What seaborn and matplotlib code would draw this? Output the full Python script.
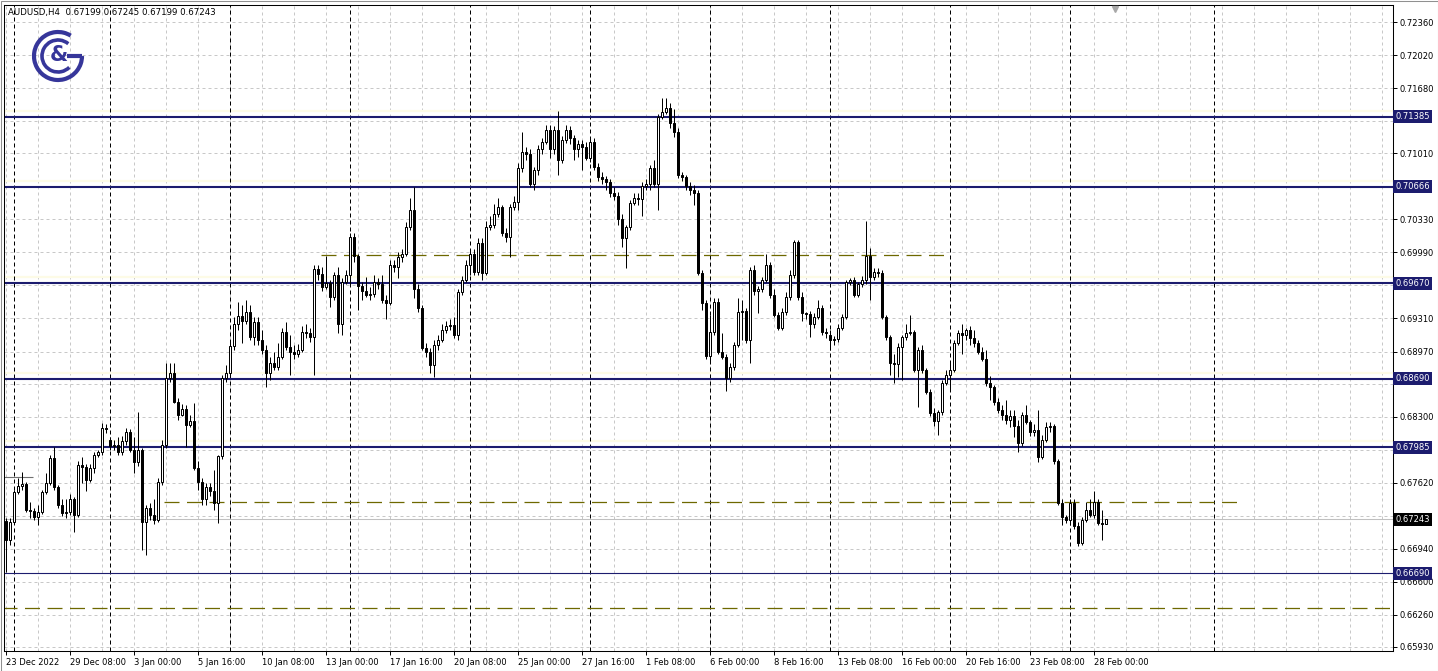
import numpy as np
import matplotlib
matplotlib.use('Agg')
import matplotlib.pyplot as plt
import matplotlib.transforms as mtransforms
from matplotlib.patches import Arc, Rectangle
import seaborn as sns

# AUDUSD H4 bars (oldest first)
opens = [
    0.6723, 0.6703, 0.6722, 0.6752, 0.6759, 0.6761, 0.6734, 0.6733, 0.6727, 0.6732,
    0.6752, 0.6762, 0.6787, 0.6758, 0.6739, 0.6731, 0.6732, 0.6745, 0.6729, 0.6780,
    0.6778, 0.6765, 0.6777, 0.6791, 0.6794, 0.6818, 0.6806, 0.6800, 0.6801, 0.6794,
    0.6805, 0.6814, 0.6796, 0.6783, 0.6796, 0.6722, 0.6736, 0.6729, 0.6724, 0.6763,
    0.6801, 0.6870, 0.6875, 0.6845, 0.6832, 0.6838, 0.6821, 0.6825, 0.6777, 0.6763,
    0.6745, 0.6758, 0.6753, 0.6741, 0.6789, 0.6870, 0.6875, 0.6903, 0.6925, 0.6934,
    0.6928, 0.6938, 0.6912, 0.6927, 0.6909, 0.6899, 0.6875, 0.6885, 0.6881, 0.6891,
    0.6917, 0.6902, 0.6897, 0.6894, 0.6899, 0.6917, 0.6916, 0.6912, 0.6982, 0.6977,
    0.6963, 0.6967, 0.6953, 0.6976, 0.6925, 0.6969, 0.6976, 0.7015, 0.6995, 0.6964,
    0.6959, 0.6955, 0.6956, 0.6968, 0.6966, 0.6950, 0.6947, 0.6986, 0.6984, 0.6994,
    0.6997, 0.7025, 0.7043, 0.6961, 0.6942, 0.6901, 0.6897, 0.6883, 0.6904, 0.6909,
    0.6919, 0.6923, 0.6924, 0.6914, 0.6958, 0.6971, 0.6986, 0.6997, 0.6979, 0.7009,
    0.6978, 0.7025, 0.7027, 0.7038, 0.7046, 0.7019, 0.7015, 0.7046, 0.7051, 0.7086,
    0.7102, 0.7100, 0.7069, 0.7084, 0.7105, 0.7113, 0.7125, 0.7105, 0.7125, 0.7094,
    0.7115, 0.7125, 0.7117, 0.7105, 0.7110, 0.7107, 0.7096, 0.7113, 0.7087, 0.7077,
    0.7074, 0.7071, 0.7060, 0.7057, 0.7033, 0.7014, 0.7025, 0.7050, 0.7055, 0.7054,
    0.7067, 0.7069, 0.7086, 0.7069, 0.7138, 0.7143, 0.7148, 0.7132, 0.7123, 0.7079,
    0.7077, 0.7067, 0.7063, 0.7060, 0.6978, 0.6947, 0.6892, 0.6917, 0.6948, 0.6896,
    0.6891, 0.6870, 0.6881, 0.6904, 0.6938, 0.6939, 0.6909, 0.6981, 0.6959, 0.6961,
    0.6971, 0.6986, 0.6955, 0.6935, 0.6921, 0.6938, 0.6953, 0.6976, 0.7010, 0.6953,
    0.6937, 0.6936, 0.6925, 0.6933, 0.6942, 0.6917, 0.6914, 0.6909, 0.6910, 0.6921,
    0.6933, 0.6968, 0.6971, 0.6955, 0.6966, 0.6971, 0.6995, 0.6974, 0.6979, 0.6978,
    0.6933, 0.6912, 0.6885, 0.6884, 0.6902, 0.6912, 0.6916, 0.6917, 0.6878, 0.6899,
    0.6878, 0.6855, 0.6834, 0.6825, 0.6835, 0.6865, 0.6873, 0.6878, 0.6906, 0.6916,
    0.6914, 0.6919, 0.6911, 0.6906, 0.6897, 0.6889, 0.6865, 0.6860, 0.6845, 0.6837,
    0.6832, 0.6827, 0.6831, 0.6820, 0.6803, 0.6832, 0.6824, 0.6814, 0.6816, 0.6788,
    0.6806, 0.6819, 0.6820, 0.6784, 0.6741, 0.6727, 0.6724, 0.6741, 0.6717, 0.6700,
    0.6724, 0.6734, 0.6729, 0.6742, 0.6721, 0.67199,
]
highs = [
    0.6726, 0.6726, 0.6755, 0.6767, 0.6773, 0.6763, 0.6742, 0.6736, 0.6739, 0.6755,
    0.6772, 0.6791, 0.6799, 0.6760, 0.6745, 0.6745, 0.6750, 0.6747, 0.6784, 0.6788,
    0.6781, 0.6781, 0.6794, 0.6796, 0.6823, 0.6822, 0.6809, 0.6806, 0.6809, 0.6810,
    0.6818, 0.6817, 0.6809, 0.6835, 0.6798, 0.6739, 0.6741, 0.6745, 0.6767, 0.6806,
    0.6885, 0.6885, 0.6885, 0.6849, 0.6843, 0.6842, 0.6832, 0.6844, 0.6784, 0.6767,
    0.6762, 0.6762, 0.6775, 0.6791, 0.6873, 0.6883, 0.6909, 0.6932, 0.6948, 0.6945,
    0.6950, 0.6945, 0.6932, 0.6932, 0.6919, 0.6904, 0.6891, 0.6897, 0.6906, 0.6921,
    0.6927, 0.6914, 0.6904, 0.6905, 0.6923, 0.6925, 0.6921, 0.6986, 0.6986, 0.6984,
    0.6995, 0.6971, 0.6979, 0.6984, 0.6973, 0.6981, 0.7019, 0.7019, 0.6997, 0.6968,
    0.6974, 0.6963, 0.6976, 0.6973, 0.6976, 0.6955, 0.6991, 0.6991, 0.6999, 0.7002,
    0.7030, 0.7055, 0.7066, 0.6966, 0.6945, 0.6906, 0.6901, 0.6909, 0.6914, 0.6925,
    0.6928, 0.6930, 0.6933, 0.6961, 0.6975, 0.6991, 0.7002, 0.7002, 0.7014, 0.7014,
    0.7031, 0.7036, 0.7049, 0.7055, 0.7048, 0.7024, 0.7049, 0.7057, 0.7091, 0.7123,
    0.7107, 0.7105, 0.7087, 0.7109, 0.7117, 0.7130, 0.7130, 0.7129, 0.7144, 0.7119,
    0.7130, 0.7129, 0.7120, 0.7115, 0.7115, 0.7113, 0.7117, 0.7117, 0.7091, 0.7082,
    0.7078, 0.7074, 0.7066, 0.7061, 0.7038, 0.7027, 0.7053, 0.7060, 0.7060, 0.7071,
    0.7074, 0.7089, 0.7094, 0.7141, 0.7158, 0.7158, 0.7153, 0.7146, 0.7127, 0.7082,
    0.7079, 0.7071, 0.7068, 0.7063, 0.6981, 0.6950, 0.6935, 0.6952, 0.6952, 0.6916,
    0.6894, 0.6885, 0.6907, 0.6952, 0.6950, 0.6942, 0.6984, 0.6986, 0.6964, 0.6974,
    0.6997, 0.6989, 0.6961, 0.6938, 0.6942, 0.6958, 0.6981, 0.7012, 0.7012, 0.6958,
    0.6938, 0.6939, 0.6937, 0.6950, 0.6945, 0.6921, 0.6919, 0.6913, 0.6925, 0.6936,
    0.6971, 0.6973, 0.6974, 0.6969, 0.6975, 0.7031, 0.7004, 0.6983, 0.6983, 0.6981,
    0.6935, 0.6914, 0.6894, 0.6906, 0.6914, 0.6925, 0.6935, 0.6919, 0.6902, 0.6904,
    0.6880, 0.6858, 0.6839, 0.6837, 0.6868, 0.6878, 0.6885, 0.6909, 0.6919, 0.6925,
    0.6921, 0.6923, 0.6919, 0.6909, 0.6902, 0.6899, 0.6872, 0.6863, 0.6849, 0.6842,
    0.6847, 0.6837, 0.6837, 0.6827, 0.6835, 0.6842, 0.6827, 0.6822, 0.6837, 0.6811,
    0.6824, 0.6824, 0.6822, 0.6786, 0.6745, 0.6729, 0.6745, 0.6745, 0.6722, 0.6727,
    0.6742, 0.6745, 0.6753, 0.6745, 0.6734, 0.67245,
]
lows = [
    0.6670, 0.6698, 0.6720, 0.6750, 0.6755, 0.6732, 0.6726, 0.6724, 0.6719, 0.6730,
    0.6750, 0.6760, 0.6755, 0.6736, 0.6728, 0.6726, 0.6729, 0.6711, 0.6727, 0.6762,
    0.6753, 0.6763, 0.6772, 0.6788, 0.6791, 0.6813, 0.6796, 0.6796, 0.6791, 0.6791,
    0.6801, 0.6794, 0.6772, 0.6779, 0.6693, 0.6688, 0.6724, 0.6720, 0.6722, 0.6760,
    0.6798, 0.6866, 0.6844, 0.6827, 0.6831, 0.6799, 0.6819, 0.6775, 0.6755, 0.6739,
    0.6739, 0.6748, 0.6734, 0.6721, 0.6786, 0.6866, 0.6872, 0.6899, 0.6919, 0.6906,
    0.6925, 0.6909, 0.6904, 0.6904, 0.6894, 0.6860, 0.6868, 0.6878, 0.6878, 0.6889,
    0.6899, 0.6873, 0.6889, 0.6891, 0.6897, 0.6911, 0.6907, 0.6873, 0.6971, 0.6959,
    0.6961, 0.6943, 0.6950, 0.6916, 0.6914, 0.6966, 0.6966, 0.6989, 0.6940, 0.6950,
    0.6953, 0.6950, 0.6953, 0.6961, 0.6947, 0.6930, 0.6945, 0.6979, 0.6973, 0.6989,
    0.6995, 0.7022, 0.6952, 0.6938, 0.6899, 0.6891, 0.6875, 0.6871, 0.6899, 0.6907,
    0.6916, 0.6919, 0.6911, 0.6909, 0.6955, 0.6968, 0.6976, 0.6976, 0.6976, 0.6971,
    0.6976, 0.7022, 0.7024, 0.7035, 0.7016, 0.7010, 0.6994, 0.7043, 0.7043, 0.7082,
    0.7094, 0.7066, 0.7063, 0.7079, 0.7100, 0.7110, 0.7096, 0.7100, 0.7079, 0.7091,
    0.7112, 0.7110, 0.7094, 0.7097, 0.7084, 0.7094, 0.7092, 0.7084, 0.7072, 0.7069,
    0.7063, 0.7056, 0.7053, 0.7027, 0.7005, 0.6983, 0.7022, 0.7048, 0.7048, 0.7036,
    0.7063, 0.7063, 0.7066, 0.7043, 0.7136, 0.7141, 0.7127, 0.7118, 0.7076, 0.7072,
    0.7063, 0.7058, 0.7048, 0.6976, 0.6940, 0.6889, 0.6887, 0.6914, 0.6894, 0.6889,
    0.6856, 0.6866, 0.6878, 0.6902, 0.6909, 0.6906, 0.6885, 0.6955, 0.6937, 0.6958,
    0.6968, 0.6952, 0.6932, 0.6919, 0.6919, 0.6935, 0.6950, 0.6973, 0.6950, 0.6928,
    0.6930, 0.6912, 0.6921, 0.6930, 0.6914, 0.6911, 0.6899, 0.6904, 0.6907, 0.6919,
    0.6930, 0.6965, 0.6953, 0.6953, 0.6963, 0.6966, 0.6950, 0.6971, 0.6974, 0.6930,
    0.6909, 0.6873, 0.6865, 0.6871, 0.6868, 0.6909, 0.6914, 0.6876, 0.6840, 0.6875,
    0.6853, 0.6831, 0.6820, 0.6811, 0.6832, 0.6863, 0.6858, 0.6876, 0.6904, 0.6894,
    0.6909, 0.6904, 0.6902, 0.6894, 0.6887, 0.6862, 0.6847, 0.6842, 0.6834, 0.6827,
    0.6822, 0.6819, 0.6809, 0.6794, 0.6800, 0.6822, 0.6810, 0.6810, 0.6783, 0.6786,
    0.6804, 0.6814, 0.6781, 0.6739, 0.6719, 0.6721, 0.6719, 0.6714, 0.6697, 0.6698,
    0.6722, 0.6727, 0.6726, 0.6719, 0.6703, 0.67199,
]
closes = [
    0.6703, 0.6722, 0.6752, 0.6759, 0.6761, 0.6734, 0.6733, 0.6727, 0.6732, 0.6752,
    0.6762, 0.6787, 0.6758, 0.6739, 0.6731, 0.6732, 0.6745, 0.6729, 0.6780, 0.6778,
    0.6765, 0.6777, 0.6791, 0.6794, 0.6818, 0.6817, 0.6800, 0.6801, 0.6794, 0.6805,
    0.6814, 0.6796, 0.6783, 0.6796, 0.6722, 0.6736, 0.6729, 0.6724, 0.6763, 0.6801,
    0.6870, 0.6875, 0.6845, 0.6832, 0.6838, 0.6821, 0.6825, 0.6777, 0.6763, 0.6745,
    0.6758, 0.6753, 0.6741, 0.6789, 0.6870, 0.6875, 0.6903, 0.6925, 0.6934, 0.6928,
    0.6938, 0.6912, 0.6927, 0.6909, 0.6899, 0.6875, 0.6885, 0.6881, 0.6891, 0.6917,
    0.6902, 0.6897, 0.6894, 0.6899, 0.6917, 0.6916, 0.6912, 0.6982, 0.6977, 0.6963,
    0.6967, 0.6953, 0.6976, 0.6925, 0.6969, 0.6976, 0.7015, 0.6995, 0.6964, 0.6959,
    0.6955, 0.6956, 0.6968, 0.6966, 0.6950, 0.6947, 0.6986, 0.6984, 0.6994, 0.6997,
    0.7025, 0.7043, 0.6961, 0.6942, 0.6901, 0.6897, 0.6883, 0.6904, 0.6909, 0.6919,
    0.6923, 0.6924, 0.6914, 0.6958, 0.6971, 0.6986, 0.6997, 0.6979, 0.7009, 0.6978,
    0.7025, 0.7027, 0.7038, 0.7046, 0.7019, 0.7015, 0.7046, 0.7051, 0.7086, 0.7102,
    0.7100, 0.7069, 0.7084, 0.7105, 0.7113, 0.7125, 0.7105, 0.7125, 0.7094, 0.7115,
    0.7125, 0.7117, 0.7105, 0.7110, 0.7107, 0.7096, 0.7113, 0.7087, 0.7077, 0.7074,
    0.7071, 0.7060, 0.7057, 0.7033, 0.7014, 0.7025, 0.7050, 0.7055, 0.7054, 0.7067,
    0.7069, 0.7086, 0.7069, 0.7138, 0.7143, 0.7148, 0.7132, 0.7123, 0.7079, 0.7077,
    0.7067, 0.7063, 0.7060, 0.6978, 0.6947, 0.6892, 0.6917, 0.6948, 0.6896, 0.6891,
    0.6870, 0.6881, 0.6904, 0.6938, 0.6939, 0.6909, 0.6981, 0.6959, 0.6961, 0.6971,
    0.6986, 0.6955, 0.6935, 0.6921, 0.6938, 0.6953, 0.6976, 0.7010, 0.6953, 0.6937,
    0.6936, 0.6925, 0.6933, 0.6942, 0.6917, 0.6916, 0.6909, 0.6910, 0.6921, 0.6933,
    0.6968, 0.6971, 0.6955, 0.6966, 0.6971, 0.6995, 0.6974, 0.6979, 0.6978, 0.6933,
    0.6912, 0.6885, 0.6884, 0.6902, 0.6912, 0.6916, 0.6917, 0.6878, 0.6899, 0.6878,
    0.6855, 0.6834, 0.6825, 0.6835, 0.6865, 0.6873, 0.6878, 0.6906, 0.6916, 0.6914,
    0.6919, 0.6911, 0.6906, 0.6897, 0.6889, 0.6865, 0.6860, 0.6845, 0.6837, 0.6832,
    0.6827, 0.6831, 0.6820, 0.6803, 0.6832, 0.6824, 0.6814, 0.6816, 0.6788, 0.6806,
    0.6819, 0.6820, 0.6784, 0.6741, 0.6727, 0.6724, 0.6741, 0.6717, 0.6700, 0.6724,
    0.6734, 0.6729, 0.6742, 0.6721, 0.6720, 0.67243,
]

date_labels = ['23 Dec 2022', '29 Dec 08:00', '3 Jan 00:00', '5 Jan 16:00', '10 Jan 08:00',
               '13 Jan 00:00', '17 Jan 16:00', '20 Jan 08:00', '25 Jan 00:00', '27 Jan 16:00',
               '1 Feb 08:00', '6 Feb 00:00', '8 Feb 16:00', '13 Feb 08:00', '16 Feb 00:00',
               '20 Feb 16:00', '23 Feb 08:00', '28 Feb 00:00']
date_label_bars = [0, 16, 32, 48, 64, 80, 96, 112, 128, 144, 160, 176, 192, 208, 224, 240, 256, 272]
week_start_bars = [2, 26, 56, 86, 116, 146, 176, 206, 236, 266, 302]

price_ticks = [0.72360, 0.72020, 0.71680, 0.71340, 0.71010, 0.70670, 0.70330, 0.69990,
               0.69650, 0.69310, 0.68970, 0.68640, 0.68300, 0.67960, 0.67620, 0.67280,
               0.66940, 0.66600, 0.66260, 0.65930]
# tick labels that sit under the level boxes on the price scale
hidden_ticks = [0.71340, 0.70670, 0.69650, 0.68640, 0.67960, 0.67280]

levels = [0.71385, 0.70666, 0.69670, 0.68690, 0.67985]
low_level = 0.66690
current_price = 0.67243
# olive dashed lines: price, first bar, last bar
dash_prices = [0.6996, 0.6742, 0.6633]
dash_starts = [78.75, 39.5, -1.0]
dash_ends = [235.0, 308.75, 350.0]
stub_price = 0.6768

title = 'AUDUSD,H4  0.67199 0.67245 0.67199 0.67243'

navy = '#1c1c6e'
olive = '#6e6800'
gridc = '#c8c8c8'

sns.set_theme(style='white')
plt.rcParams['font.family'] = ['DejaVu Sans']

W, H = 1438, 671
fig = plt.figure(figsize=(W / 100, H / 100), dpi=100)
fig.patch.set_facecolor('white')
ax = fig.add_axes([4 / W, 1 - 651 / H, 1389 / W, 646 / H])
ax.set_facecolor('white')

ymin, ymax = 0.658888, 0.725349
xmin = -0.375
xmax = xmin + 1389 / 4
ax.set_xlim(xmin, xmax)
ax.set_ylim(ymin, ymax)
px = (ymax - ymin) / 646

# grid
for p in price_ticks:
    ax.axhline(p, color=gridc, lw=0.72, ls=(0, (3, 3)), zorder=0.5)
for b in np.arange(0, 347, 8):
    ax.axvline(b, color=gridc, lw=0.72, ls=(0, (3, 3)), zorder=0.5)
for b in week_start_bars:
    ax.axvline(b, color='black', lw=0.72, ls=(0, (4, 3)), zorder=1)

# horizontal levels
for p in levels:
    ax.axhline(p + 6 * px, color='#fdfbe6', lw=1.6, zorder=0.8)
    ax.axhline(p, color=navy, lw=1.5, zorder=2)
ax.axhline(low_level, color=navy, lw=0.8, zorder=2)
ax.axhline(current_price, color='#c0c0c0', lw=0.75, zorder=1.2)
for p, a, b in zip(dash_prices, dash_starts, dash_ends):
    ax.hlines(p, a, b, color=olive, lw=0.9, ls=(0, (12, 6)), zorder=2.5)
ax.hlines(stub_price, -1, 6.75, color='#707070', lw=0.8, zorder=1.5)

# candles
o = np.array(opens)
h = np.array(highs)
l = np.array(lows)
c = np.array(closes)
idx = np.arange(len(c))
up = c >= o
ax.vlines(idx, l, h, color='black', lw=0.72, zorder=3)
bottom = np.minimum(o, c)
height = np.maximum(np.abs(c - o), 0.00002)
ax.bar(idx[up], height[up], bottom=bottom[up], width=0.5, color='white',
       edgecolor='black', linewidth=0.72, zorder=4)
ax.bar(idx[~up], height[~up], bottom=bottom[~up], width=0.5, color='black',
       edgecolor='black', linewidth=0.72, zorder=4)

# axes
ax.yaxis.tick_right()
ax.set_yticks(price_ticks)
ax.set_yticklabels(['' if p in hidden_ticks else f'{p:.5f}' for p in price_ticks])
ax.set_xticks(date_label_bars)
ax.set_xticklabels(date_labels, ha='left')
ax.tick_params(axis='y', left=False, right=True, labelleft=False, labelright=True,
               length=3, width=0.7, pad=1.5, labelsize=6, colors='black', direction='out')
ax.tick_params(axis='x', bottom=True, length=3, width=0.7, pad=2, labelsize=6,
               colors='black', direction='out')
for s in ax.spines.values():
    s.set_color('black')
    s.set_linewidth(0.75)
    s.set_visible(True)

# price boxes on the axis
trans = mtransforms.blended_transform_factory(ax.transAxes, ax.transData)
for p in levels + [low_level]:
    ax.text(1.0 + 2.5 / 1389, p, f'{p:.5f}', transform=trans, ha='left', va='center',
            fontsize=6, color='white', zorder=6, clip_on=False,
            bbox=dict(boxstyle='square,pad=0.25', fc=navy, ec='none'))
ax.text(1.0 + 2.5 / 1389, current_price, f'{current_price:.5f}', transform=trans,
        ha='left', va='center', fontsize=6, color='white', zorder=6, clip_on=False,
        bbox=dict(boxstyle='square,pad=0.25', fc='black', ec='none'))

# chart shift marker
ax.plot([277.25], [ymax - 4 * px], marker='v', ms=5, color='#a8a8a8', clip_on=False, zorder=6)

fig.text(8 / W, 1 - 12 / H, title, fontsize=6.2, ha='left', va='center', color='black')

# logo
lax = fig.add_axes([27 / W, 1 - 87 / H, 62 / W, 62 / H])
lax.set_xlim(0, 62)
lax.set_ylim(0, 62)
lax.axis('off')
logo = '#36369a'
lax.add_patch(Arc((31, 31), 48, 48, theta1=58, theta2=360, lw=3.0, color=logo))
lax.add_patch(Arc((31, 31), 32, 32, theta1=50, theta2=315, lw=2.6, color=logo))
lax.plot([40, 55], [31, 31], color=logo, lw=3.0, solid_capstyle='butt')
lax.text(32, 32, '&', fontsize=15, fontweight='bold', color=logo, ha='center', va='center')

fig.add_artist(Rectangle((0.5 / W, 0.5 / H), 1 - 1 / W, 1 - 1 / H, transform=fig.transFigure,
                         fill=False, ec='#909090', lw=0.75))

fig.savefig('out.png', dpi=100)
